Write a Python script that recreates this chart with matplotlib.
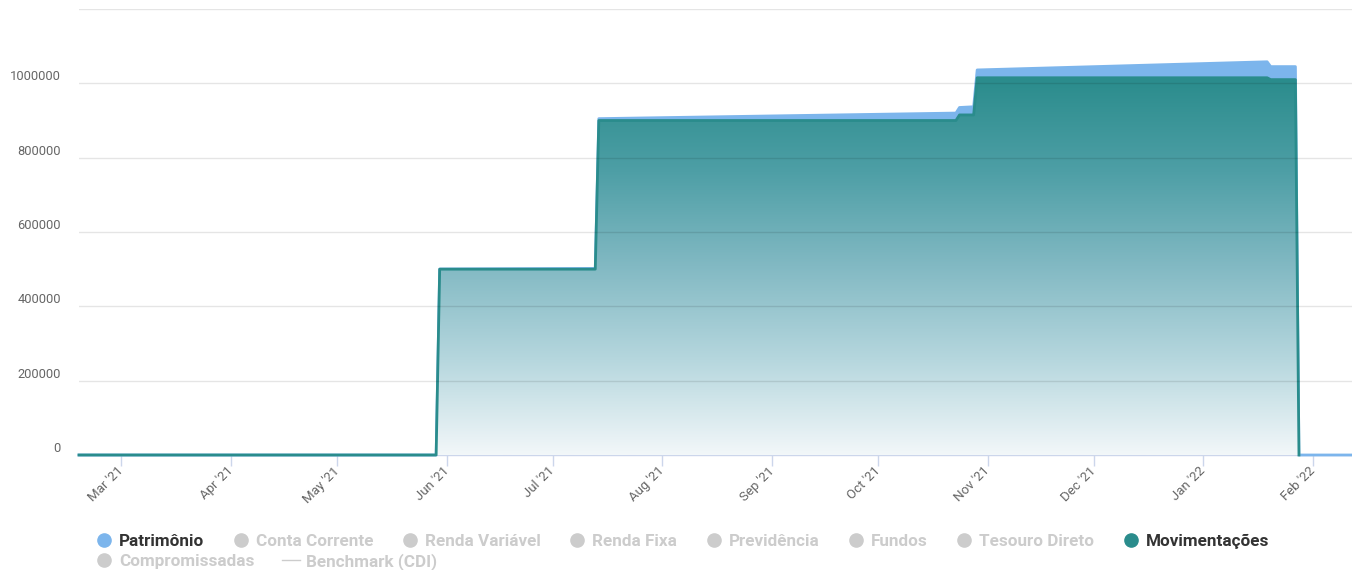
import matplotlib
matplotlib.use("Agg")
import matplotlib.pyplot as plt
import matplotlib.dates as mdates
from matplotlib.colors import LinearSegmentedColormap
from matplotlib.lines import Line2D
import numpy as np
import pandas as pd

plt.rcParams["font.family"] = ["Roboto", "DejaVu Sans"]

# values
pat_dates = ["2021-02-17", "2021-05-29", "2021-05-30", "2021-07-13", "2021-07-14",
             "2021-10-23", "2021-10-24", "2021-10-28", "2021-10-29", "2022-01-19",
             "2022-01-20", "2022-01-27", "2022-01-28", "2022-02-12"]
patrimonio = [0, 0, 500500, 502000, 905000, 920000, 935000, 937000, 1036000, 1058000,
              1045000, 1045000, 0, 0]

mov_dates = ["2021-02-17", "2021-05-29", "2021-05-30", "2021-07-13", "2021-07-14",
             "2021-10-23", "2021-10-24", "2021-10-28", "2021-10-29", "2022-01-19",
             "2022-01-20", "2022-01-27", "2022-01-28"]
movimentacoes = [0, 0, 500000, 500000, 900000, 900000, 915000, 915000, 1015000, 1015000,
                 1010000, 1010000, 0]

y_ticks = [0, 200000, 400000, 600000, 800000, 1000000]
y_max = 1200000

legend_labels = ["Patrimônio", "Conta Corrente", "Renda Variável", "Renda Fixa",
                 "Previdência", "Fundos", "Tesouro Direto", "Movimentações",
                 "Compromissadas", "Benchmark (CDI)"]
legend_colors = ["#7cb5ec", "#cccccc", "#cccccc", "#cccccc", "#cccccc", "#cccccc",
                 "#cccccc", "#2a8c8c", "#cccccc", "#cccccc"]
legend_active = [True, False, False, False, False, False, False, True, False, False]

W, H = 1352, 570
fig = plt.figure(figsize=(W / 100, H / 100), dpi=100)
ax = fig.add_axes([79 / W, 115 / H, 1 - 79 / W, 446 / H])

px = pd.to_datetime(pat_dates)
mx = pd.to_datetime(mov_dates)

# Patrimônio area (behind)
ax.fill_between(px, patrimonio, color="#7cb5ec", lw=0, zorder=1)
ax.plot(px, patrimonio, color="#7cb5ec", lw=2, zorder=2, clip_on=False)

# Movimentações area with vertical gradient
poly = ax.fill_between(mx, movimentacoes, color="none", lw=0, zorder=3)
cmap = LinearSegmentedColormap.from_list(
    "mov", [(0, "#f2f7f9"), (0.25, "#b6d7de"), (0.5, "#82b9c3"),
            (0.75, "#4e9fa6"), (1, "#2a8c8c")])
grad = np.linspace(0, 1, 256).reshape(-1, 1)
x0 = mdates.date2num(mx[0])
x1 = mdates.date2num(mx[-1])
im = ax.imshow(grad, cmap=cmap, aspect="auto", origin="lower",
               extent=[x0, x1, 0, max(movimentacoes)], zorder=3, interpolation="bilinear")
im.set_clip_path(poly.get_paths()[0], transform=ax.transData)
ax.plot(mx, movimentacoes, color="#2a8c8c", lw=2, zorder=4, clip_on=False)

# grid lines drawn over the fills
for v in y_ticks[1:] + [y_max]:
    ax.axhline(v, color="black", alpha=0.1, lw=1, zorder=5)
ax.axhline(0, color="#ccd6eb", lw=1, zorder=1.5, clip_on=False)

ax.set_xlim(px[0], px[-1])
ax.set_ylim(0, y_max)
for s in ax.spines.values():
    s.set_visible(False)

ax.xaxis.set_major_locator(mdates.MonthLocator())
ax.xaxis.set_major_formatter(mdates.DateFormatter("%b '%y"))
ax.tick_params(axis="x", direction="out", length=8, width=1, color="#ccd6eb",
               labelcolor="#666666", labelsize=9.5, pad=2)
plt.setp(ax.get_xticklabels(), rotation=45, ha="right", va="center", rotation_mode="anchor")

ax.set_yticks(y_ticks)
ax.set_yticklabels([str(v) for v in y_ticks])
ax.tick_params(axis="y", length=0, labelcolor="#666666", labelsize=9.3, pad=13)
plt.setp(ax.get_yticklabels(), va="bottom")

# legend, drawn by hand in pixel positions
renderer = fig.canvas.get_renderer()
rows = [(range(0, 8), 30), (range(8, 10), 10)]
for idx, ybot in rows:
    x = 104
    for i in idx:
        col = legend_colors[i]
        if legend_labels[i].startswith("Benchmark"):
            fig.add_artist(Line2D([(x - 9) / W, (x + 9) / W], [ybot / H, ybot / H],
                                  color=col, lw=1, transform=fig.transFigure))
        else:
            fig.add_artist(Line2D([x / W], [ybot / H], marker="o", ms=9.5, color=col,
                                  transform=fig.transFigure))
        t = fig.text((x + 15) / W, ybot / H, legend_labels[i], fontsize=12.3,
                     fontweight="bold", color="#333333" if legend_active[i] else "#cccccc",
                     va="center_baseline", ha="left")
        w = t.get_window_extent(renderer).width
        x = x + 15 + w + 36.5

fig.savefig("out.png", dpi=100)
